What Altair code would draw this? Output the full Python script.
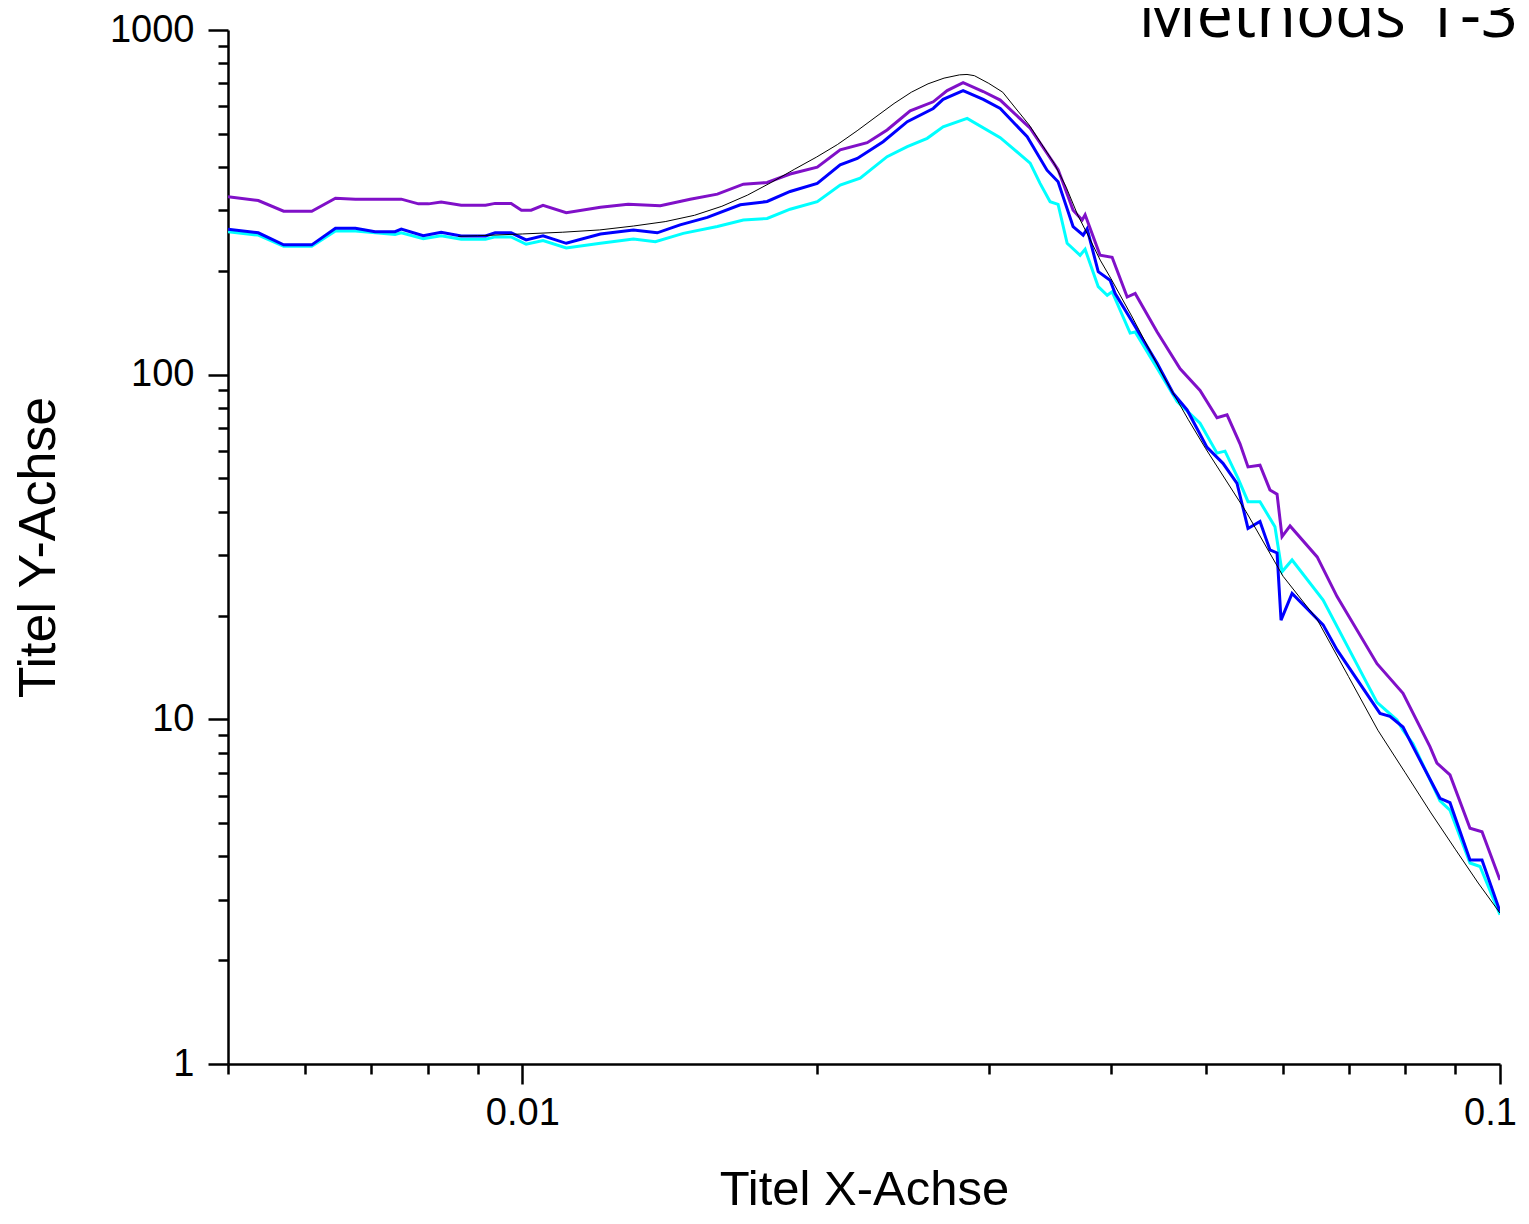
import altair as alt
import pandas as pd

# ---------------- data ----------------
purple_x = [0.00500, 0.00537, 0.00570, 0.00609, 0.00644, 0.00675, 0.00752, 0.00783, 0.00802,
            0.00826, 0.00866, 0.00917, 0.00938, 0.00974, 0.00998, 0.01021, 0.01050, 0.01109,
            0.01202, 0.01283, 0.01384, 0.01485, 0.01583, 0.01683, 0.01780, 0.01879, 0.02003,
            0.02114, 0.02253, 0.02361, 0.02493, 0.02632, 0.02720, 0.02824, 0.02961, 0.03082,
            0.03307, 0.03441, 0.03532, 0.03574, 0.03659, 0.03738, 0.03764, 0.03899, 0.04011,
            0.04156, 0.04235, 0.04460, 0.04708, 0.04934, 0.05135, 0.05258, 0.05421, 0.05524,
            0.05682, 0.05817, 0.05915, 0.05985, 0.06099, 0.06501, 0.06813, 0.07485, 0.07958,
            0.08479, 0.08620, 0.08889, 0.09318, 0.09585, 0.10000]
purple_y = [328, 320, 298, 298, 325, 323, 323, 313, 313,
            317, 310, 310, 314, 314, 300, 300, 310, 295,
            306, 312, 309, 323, 334, 357, 361, 382, 400,
            449, 471, 513, 583, 619, 667, 703, 663, 626,
            519, 439, 393, 360, 300, 281, 291, 222, 219,
            168, 172, 133, 104, 90, 75, 76.5, 63, 54,
            54.6, 46.3, 45, 33.9, 36.4, 29.6, 22.7, 14.5, 11.9,
            8.33, 7.46, 6.9, 4.83, 4.72, 3.42]

blue_x = [0.00500, 0.00537, 0.00570, 0.00609, 0.00644, 0.00675, 0.00707, 0.00741, 0.00752,
          0.00792, 0.00826, 0.00866, 0.00917, 0.00938, 0.00974, 0.01009, 0.01050, 0.01109,
          0.01202, 0.01299, 0.01374, 0.01450, 0.01546, 0.01671, 0.01780, 0.01879, 0.02003,
          0.02114, 0.02201, 0.02339, 0.02476, 0.02632, 0.02694, 0.02824, 0.02961, 0.03082,
          0.03284, 0.03441, 0.03532, 0.03574, 0.03659, 0.03747, 0.03782, 0.03882, 0.03992,
          0.04040, 0.04215, 0.04460, 0.04631, 0.04786, 0.05016, 0.05208, 0.05383, 0.05524,
          0.05682, 0.05817, 0.05915, 0.05971, 0.06128, 0.06593, 0.06813, 0.07538, 0.07717,
          0.07958, 0.08147, 0.08682, 0.08889, 0.09318, 0.09585, 0.10000]
blue_y = [264, 258, 238, 238, 266, 266, 260, 260, 264.6,
          253, 259, 252.6, 252.6, 258, 258, 246, 253, 240.5,
          256, 263, 258, 272, 286, 311, 318, 340, 359,
          406, 424, 474, 542, 592, 629, 667, 629, 592,
          490, 392, 363, 328, 269, 254, 265, 199, 188,
          172, 141, 108, 88.3, 79, 61.5, 55.3, 48.4, 35.8,
          37.5, 31, 30.4, 19.4, 23.2, 18.8, 15.9, 10.4, 10.2,
          9.5, 8.33, 5.9, 5.73, 3.91, 3.91, 2.77]

cyan_x = [0.00500, 0.00537, 0.00570, 0.00609, 0.00644, 0.00675, 0.00741, 0.00752, 0.00792,
          0.00826, 0.00866, 0.00917, 0.00938, 0.00974, 0.01009, 0.01050, 0.01109, 0.01202,
          0.01299, 0.01368, 0.01461, 0.01583, 0.01683, 0.01780, 0.01879, 0.02003, 0.02114,
          0.02216, 0.02361, 0.02476, 0.02595, 0.02694, 0.02851, 0.03082, 0.03307, 0.03385,
          0.03466, 0.03532, 0.03608, 0.03720, 0.03764, 0.03882, 0.03965, 0.04011, 0.04185,
          0.04235, 0.04460, 0.04675, 0.04934, 0.05135, 0.05233, 0.05396, 0.05524, 0.05682,
          0.05886, 0.05985, 0.06128, 0.06593, 0.07485, 0.07846, 0.07958, 0.08147, 0.08682,
          0.08889, 0.09318, 0.09541, 0.10000]
cyan_y = [260, 254, 236, 236, 261, 261, 255, 258, 248,
          253, 247, 247, 251, 251, 239, 245, 233, 240.5,
          247.6, 243, 257, 269, 281, 284, 302, 317.5, 355,
          371.5, 429, 459, 485, 524, 554, 487, 411, 359,
          317.5, 312, 240.5, 222, 231, 180, 170, 174, 132,
          133, 104.4, 83.5, 72.3, 59.2, 60, 50, 42.8, 42.8,
          36.2, 26.8, 29, 22.2, 11.2, 9.95, 9.3, 8.5, 5.8,
          5.45, 3.83, 3.74, 2.71]

black_x = [0.0086, 0.009, 0.010, 0.011, 0.012, 0.013, 0.014, 0.015,
           0.016, 0.017, 0.018, 0.019, 0.020, 0.021, 0.022, 0.023, 0.024, 0.025, 0.026,
           0.027, 0.028, 0.0285, 0.029, 0.030, 0.031, 0.032, 0.033, 0.034, 0.035, 0.036,
           0.037, 0.038, 0.039, 0.040, 0.042, 0.045, 0.048, 0.050, 0.055, 0.060, 0.065,
           0.070, 0.075, 0.080, 0.085, 0.090, 0.095, 0.100]
black_y = [252, 253, 256, 259, 263, 270, 278, 290,
           308, 332, 362, 395, 428, 465, 510, 560, 612, 660, 698,
           725, 741, 743, 737, 700, 660, 590, 530, 465, 410, 350,
           290, 250, 215, 190, 148, 102, 74, 61, 40, 26, 19.5,
           13.3, 9.3, 7.0, 5.35, 4.2, 3.35, 2.74]

x_major = [0.01, 0.1]
x_minor = [0.005, 0.006, 0.007, 0.008, 0.009, 0.02, 0.03, 0.04, 0.05, 0.06, 0.07, 0.08, 0.09]
y_major = [1, 10, 100, 1000]
y_minor = [2, 3, 4, 5, 6, 7, 8, 9, 20, 30, 40, 50, 60, 70, 80, 90,
           200, 300, 400, 500, 600, 700, 800, 900]

title_text = ["Methods 1-3"]

# ---------------- chart ----------------
series = [
    ("Method 1", cyan_x, cyan_y, "#00FFFF", 3.0),
    ("Method 2", blue_x, blue_y, "#0000FF", 3.0),
    ("Method 3", purple_x, purple_y, "#8010C8", 3.0),
    ("Theory", black_x, black_y, "#000000", 1.0),
]

x_scale = alt.Scale(type="log", domain=[0.005, 0.1], nice=False)
y_scale = alt.Scale(type="log", domain=[1, 1000], nice=False)

FONT = "Liberation Sans"
common = dict(domainColor="black", domainWidth=2.5, tickColor="black", tickWidth=2.5,
              grid=False, labelColor="black", labelFont=FONT, titleFont=FONT,
              titleColor="black", titleFontWeight="normal")

x_axis_major = alt.Axis(values=x_major, format="~g", tickSize=20, labelFontSize=38,
                        labelPadding=10, title="Titel X-Achse", titleFontSize=49,
                        titlePadding=33, orient="bottom", labelFlush=False,
                        labelOverlap=False,
                        labelOffset={"condition": {"test": "datum.value >= 0.099", "value": -10},
                                     "value": 0},
                        **common)
y_axis_major = alt.Axis(values=y_major, format="d", tickSize=20, labelFontSize=38,
                        labelPadding=14, title="Titel Y-Achse", titleFontSize=52,
                        titlePadding=44, orient="left", labelFlush=False,
                        labelOverlap=False, **common)
x_axis_minor = alt.Axis(values=x_minor, tickSize=10, labels=False, domain=False,
                        title=None, orient="bottom", ticks=True, tickColor="black",
                        tickWidth=2.5, grid=False)
y_axis_minor = alt.Axis(values=y_minor, tickSize=10, labels=False, domain=False,
                        title=None, orient="left", ticks=True, tickColor="black",
                        tickWidth=2.5, grid=False)

layers = []
for i, (name, xs, ys, color, width) in enumerate(series):
    df = pd.DataFrame({"x": xs, "y": ys, "series": name})
    if i == 0:
        xenc = alt.X("x:Q", scale=x_scale, axis=x_axis_major)
        yenc = alt.Y("y:Q", scale=y_scale, axis=y_axis_major)
    else:
        xenc = alt.X("x:Q", scale=x_scale, axis=None)
        yenc = alt.Y("y:Q", scale=y_scale, axis=None)
    layers.append(
        alt.Chart(df).mark_line(color=color, strokeWidth=width, clip=True).encode(
            x=xenc, y=yenc, order="x:Q")
    )

# invisible layer that carries the minor ticks
minor_df = pd.DataFrame({"x": black_x, "y": black_y})
minor = alt.Chart(minor_df).mark_point(opacity=0).encode(
    x=alt.X("x:Q", scale=x_scale, axis=x_axis_minor),
    y=alt.Y("y:Q", scale=y_scale, axis=y_axis_minor),
)

title_df = pd.DataFrame({"t": title_text})
title = alt.Chart(title_df).mark_text(
    align="right", baseline="alphabetic", fontSize=65, font="Open Sans", color="black"
).encode(x=alt.value(1290), y=alt.value(7), text="t:N")

chart = alt.layer(minor, *layers, title).resolve_axis(
    x="independent", y="independent"
).properties(
    width=1272, height=1034,
    padding={"left": 220, "top": 22, "right": 21, "bottom": 148},
    autosize=alt.AutoSizeParams(type="none"),
    background="white",
).configure_view(stroke=None)

chart.save("out.html", embed_options={"renderer": "svg", "actions": False})
